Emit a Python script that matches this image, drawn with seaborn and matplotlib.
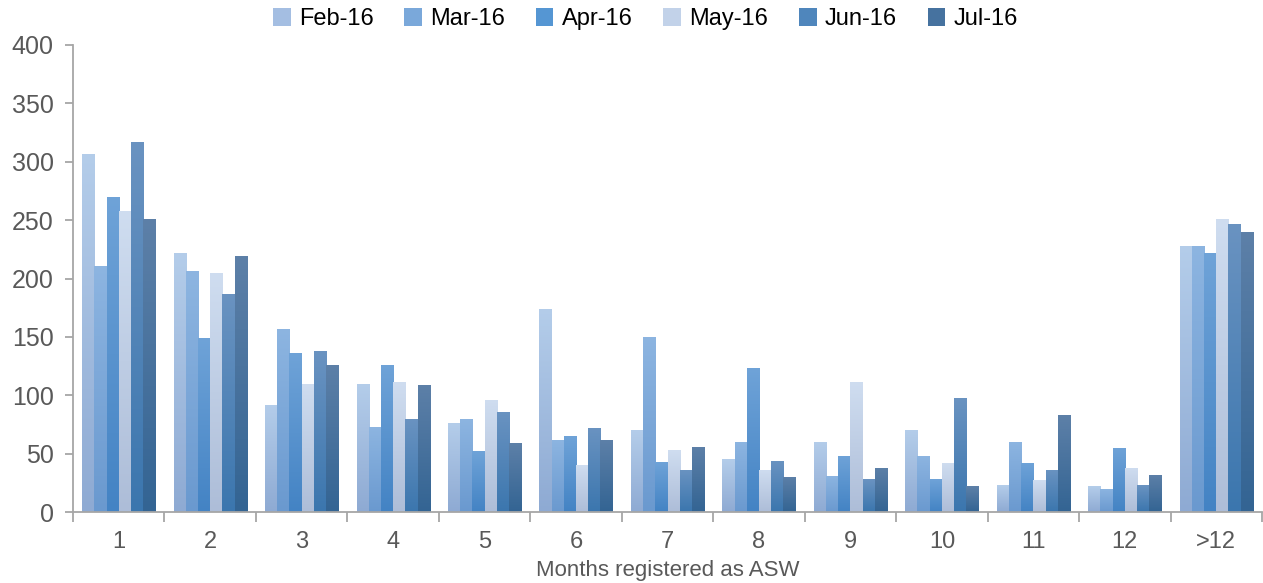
import numpy as np
import pandas as pd
import matplotlib
matplotlib.use("Agg")
import matplotlib.pyplot as plt
import seaborn as sns
from matplotlib.colors import LinearSegmentedColormap
from matplotlib.patches import Patch

categories = ["1", "2", "3", "4", "5", "6", "7", "8", "9", "10", "11", "12", ">12"]
months = ["Feb-16", "Mar-16", "Apr-16", "May-16", "Jun-16", "Jul-16"]
feb = [307, 222, 92, 110, 76, 174, 70, 45, 60, 70, 23, 22, 228]
mar = [211, 206, 157, 73, 80, 62, 150, 60, 31, 48, 60, 20, 228]
apr = [270, 149, 136, 126, 52, 65, 43, 123, 48, 28, 42, 55, 222]
may = [258, 205, 110, 111, 96, 40, 53, 36, 111, 42, 27, 38, 251]
jun = [317, 187, 138, 80, 86, 72, 36, 44, 28, 98, 36, 23, 247]
jul = [251, 219, 126, 109, 59, 62, 56, 30, 38, 22, 83, 32, 240]
series = [feb, mar, apr, may, jun, jul]

top_colors = ["#b4cdea", "#8db5e1", "#6fa3d8", "#cfddf0", "#6a93c1", "#5d80a8"]
mid_colors = ["#a4bee2", "#7aa8da", "#5596d3", "#c2d2e9", "#4f86bc", "#46729f"]
bot_colors = ["#8eaad3", "#6a99cf", "#4383c4", "#adbdd8", "#3b76ae", "#336493"]

df = pd.DataFrame({
    "category": np.tile(categories, len(months)),
    "month": np.repeat(months, len(categories)),
    "value": np.concatenate(series),
})

plt.rcParams["font.family"] = ["Liberation Sans", "DejaVu Sans"]
fig = plt.figure(figsize=(12.63, 5.83), dpi=100)
ax = fig.add_axes([73 / 1263, 1 - 512 / 583, (1262 - 73) / 1263, (512 - 45) / 583])

sns.barplot(data=df, x="category", y="value", hue="month", order=categories,
            hue_order=months, palette=mid_colors, width=0.8, gap=0,
            saturation=1, ax=ax, legend=False, edgecolor="none", linewidth=0)

# apply vertical gradient to each bar
for ci, container in enumerate(ax.containers):
    cmap = LinearSegmentedColormap.from_list(f"g{ci}", [bot_colors[ci], top_colors[ci]])
    grad = np.linspace(0, 1, 256).reshape(-1, 1)
    for bar in container:
        x0, y0 = bar.get_x(), bar.get_y()
        w, h = bar.get_width(), bar.get_height()
        if h <= 0:
            continue
        im = ax.imshow(grad, cmap=cmap, aspect="auto", origin="lower",
                       extent=(x0, x0 + w, y0, y0 + h), zorder=bar.get_zorder())
        im.set_clip_path(bar)
        bar.set_facecolor("none")

ax.set_xlim(-0.5, len(categories) - 0.5)
ax.set_ylim(0, 400)
ax.set_yticks(np.arange(0, 401, 50))

grey = "#a6a6a6"
txt = "#595959"
for s in ["top", "right"]:
    ax.spines[s].set_visible(False)
for s in ["left", "bottom"]:
    ax.spines[s].set_color(grey)
    ax.spines[s].set_linewidth(1.3)

ax.tick_params(axis="y", colors=grey, labelcolor=txt, labelsize=18, length=6, width=1.3, pad=8)
ax.set_xticks(range(len(categories)))
ax.set_xticklabels(categories)
ax.tick_params(axis="x", which="major", length=0, labelcolor=txt, labelsize=17, pad=14)
ax.set_xticks(np.arange(-0.5, len(categories), 1), minor=True)
ax.tick_params(axis="x", which="minor", length=7, width=1.3, colors=grey)

ax.set_xlabel("Months registered as ASW", fontsize=16, color=txt, va="top")
ax.xaxis.set_label_coords(0.5, -48 / 467)
ax.set_ylabel("")

handles = [Patch(facecolor=c, edgecolor="none") for c in mid_colors]
fig.legend(handles, months, loc="center", bbox_to_anchor=(0.511, 0.967), ncol=6,
           frameon=False, fontsize=17, handlelength=0.75, handleheight=0.75,
           handletextpad=0.35, columnspacing=1.3)

fig.savefig("out.png", dpi=100)
